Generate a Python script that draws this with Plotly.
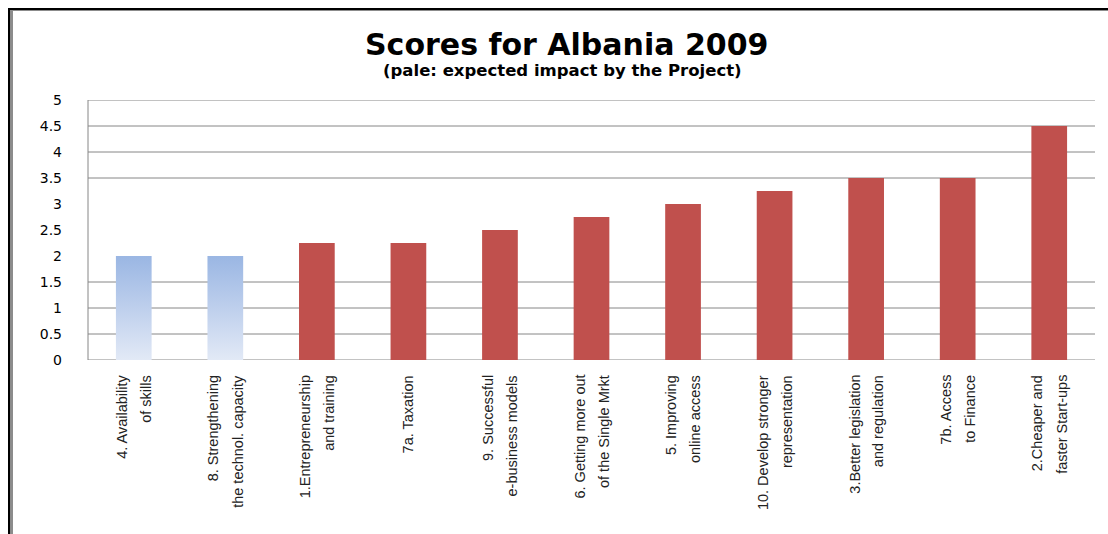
import plotly.graph_objects as go

# Scores per policy area (pale = expected impact by the Project)
label_line1 = [
    "4. Availability",
    "8. Strengthening",
    "1.Entrepreneurship",
    "7a. Taxation",
    "9. Successful",
    "6. Getting more out",
    "5. Improving",
    "10. Develop stronger",
    "3.Better legislation",
    "7b. Access",
    "2.Cheaper and",
]
label_line2 = [
    "of skills",
    "the technol. capacity",
    "and training",
    "",
    "e-business models",
    "of the Single Mrkt",
    "online access",
    "representation",
    "and regulation",
    "to Finance",
    "faster Start-ups",
]
scores = [2, 2, 2.25, 2.25, 2.5, 2.75, 3, 3.25, 3.5, 3.5, 4.5]
is_expected = [True, True, False, False, False, False, False, False, False, False, False]
y_ticks = [0, 0.5, 1, 1.5, 2, 2.5, 3, 3.5, 4, 4.5, 5]
y_tick_text = ["0", "0.5", "1", "1.5", "2", "2.5", "3", "3.5", "4", "4.5", "5"]
grid_levels = [0, 0.5, 1, 1.5, 3.5, 4, 4.5, 5]

W, H = 1108, 534
ML, MR, MT, MB = 88, 13, 100, 174
BAR_W = 0.39
RED = "#C0504D"
GRID = "#868686"
LABEL_FONT = dict(family="Liberation Sans", size=14.5, color="#222222")

idx = list(range(len(scores)))

fig = go.Figure()

# solid bars (current scores)
solid_x = [i for i in idx if not is_expected[i]]
solid_y = [scores[i] for i in idx if not is_expected[i]]
fig.add_trace(go.Bar(
    x=solid_x, y=solid_y, width=BAR_W,
    marker=dict(color=RED, line=dict(width=0)),
    showlegend=False, hoverinfo="skip",
))

# pale bars with a vertical gradient, built as filled rectangles
px_, py_ = [], []
for i in idx:
    if is_expected[i]:
        x0, x1 = i - BAR_W / 2, i + BAR_W / 2
        px_ += [x0, x1, x1, x0, x0, None]
        py_ += [0, 0, scores[i], scores[i], 0, None]
fig.add_trace(go.Scatter(
    x=px_, y=py_, mode="lines", fill="toself",
    line=dict(width=0, color="rgba(0,0,0,0)"),
    fillgradient=dict(type="vertical",
                      colorscale=[[0, "#E2E9F6"], [1, "#9AB6E3"]]),
    showlegend=False, hoverinfo="skip",
))

shapes = []
# horizontal grid lines
for g in grid_levels:
    shapes.append(dict(type="line", xref="paper", yref="y", x0=0, x1=1, y0=g, y1=g,
                       line=dict(color=GRID, width=1), layer="below"))
# left axis line
shapes.append(dict(type="line", xref="paper", yref="paper", x0=0, x1=0, y0=0, y1=1,
                   line=dict(color=GRID, width=1)))


def px_x(p):
    return (p - ML) / (W - ML - MR)


def px_y(p):
    return (H - MB - p) / (H - MT - MB)


# outer frame (top and left edges)
shapes.append(dict(type="line", xref="paper", yref="paper",
                   x0=px_x(8), x1=px_x(W + 5), y0=px_y(9), y1=px_y(9),
                   line=dict(color="#000000", width=2)))
shapes.append(dict(type="line", xref="paper", yref="paper",
                   x0=px_x(8), x1=px_x(W + 5), y0=px_y(10.5), y1=px_y(10.5),
                   line=dict(color="#8C8C8C", width=1)))
shapes.append(dict(type="line", xref="paper", yref="paper",
                   x0=px_x(9), x1=px_x(9), y0=px_y(8), y1=px_y(H + 5),
                   line=dict(color="#000000", width=2)))
shapes.append(dict(type="line", xref="paper", yref="paper",
                   x0=px_x(11.5), x1=px_x(11.5), y0=px_y(10), y1=px_y(H + 5),
                   line=dict(color="#8C8C8C", width=3)))

annotations = [
    dict(text="<b>Scores for Albania 2009</b>", xref="paper", yref="paper",
         x=px_x(566), y=px_y(44), xanchor="center", yanchor="middle", showarrow=False,
         font=dict(family="DejaVu Sans", size=30, color="#000000")),
    dict(text="<b>(pale: expected impact by the Project)</b>", xref="paper", yref="paper",
         x=px_x(562), y=px_y(70), xanchor="center", yanchor="middle", showarrow=False,
         font=dict(family="DejaVu Sans", size=16.5, color="#000000")),
]

# category labels, rotated, one annotation per text line, top-aligned under the axis
for i in idx:
    lines = [t for t in (label_line1[i], label_line2[i]) if t]
    n = len(lines)
    for k, t in enumerate(lines):
        annotations.append(dict(
            text=t, x=i, y=0, xref="x", yref="y",
            xanchor="center", yanchor="top", textangle=-90,
            xshift=(k - (n - 1) / 2) * 24, yshift=-13,
            showarrow=False, font=LABEL_FONT,
        ))

fig.update_layout(
    width=W, height=H,
    margin=dict(l=ML, r=MR, t=MT, b=MB, pad=0),
    paper_bgcolor="white", plot_bgcolor="white",
    shapes=shapes, annotations=annotations,
    bargap=0.6,
    xaxis=dict(
        range=[-0.5, len(scores) - 0.5],
        showticklabels=False, showgrid=False, zeroline=False, showline=False, ticks="",
    ),
    yaxis=dict(
        range=[0, 5], tickmode="array", tickvals=y_ticks, ticktext=y_tick_text,
        showgrid=False, gridcolor="rgba(0,0,0,0)", zeroline=False, showline=False, ticks="",
        ticklabelstandoff=25,
        tickfont=dict(family="DejaVu Sans", size=14, color="#000000"),
    ),
)

fig.write_html("out.html")
